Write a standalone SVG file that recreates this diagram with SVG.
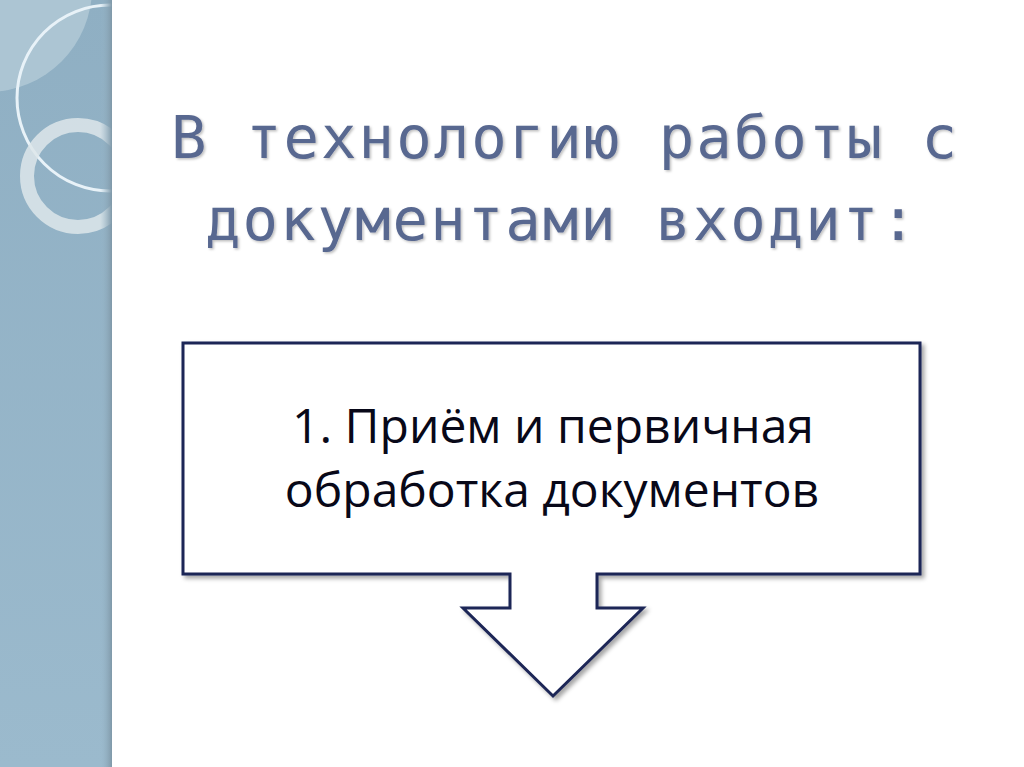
<svg xmlns="http://www.w3.org/2000/svg" width="1024" height="767" viewBox="0 0 1024 767">
<defs>
<linearGradient id="panel" x1="0" y1="0" x2="0" y2="1">
<stop offset="0" stop-color="#8fafc3"/>
<stop offset="1" stop-color="#9bbacd"/>
</linearGradient>
<linearGradient id="edge" x1="0" y1="0" x2="1" y2="0">
<stop offset="0" stop-color="#9ab8ca" stop-opacity="0"/>
<stop offset="1" stop-color="#7f98a8"/>
</linearGradient>
<clipPath id="pc"><rect x="0" y="0" width="112" height="767"/></clipPath>
<filter id="sh" x="-5%" y="-5%" width="115%" height="120%">
<feDropShadow dx="3" dy="3" stdDeviation="2" flood-color="#000" flood-opacity="0.35"/>
</filter>
<filter id="tsh" x="-5%" y="-20%" width="110%" height="140%">
<feDropShadow dx="1.5" dy="1.5" stdDeviation="1" flood-color="#000" flood-opacity="0.25"/>
</filter>
<style>
.title{font-family:"DejaVu Sans Mono","Liberation Mono",monospace;font-size:59px;fill:#596890;letter-spacing:2px}
.body{font-family:"Open Sans","Noto Sans",sans-serif;font-size:48px;font-weight:500;fill:#080818}
</style>
</defs>
<rect width="1024" height="767" fill="#ffffff"/>
<g id="sidebar" clip-path="url(#pc)">
<rect x="0" y="0" width="112" height="767" fill="url(#panel)"/>
<circle cx="-12" cy="-12" r="104" fill="#b3cad7" opacity="0.8"/>
<circle cx="110" cy="98" r="93" fill="none" stroke="#e8f2f8" stroke-width="3"/>
<circle cx="78" cy="176" r="51" fill="none" stroke="#dde6ea" stroke-width="14" opacity="0.85"/>
<rect x="100" y="0" width="12" height="767" fill="url(#edge)"/>
</g>
<g id="title" filter="url(#tsh)">
<text class="title" x="171" y="158">В технологию работы с</text>
<text class="title" x="205" y="240">документами входит:</text>
</g>
<g id="callout">
<path d="M183,343 H920 V574 H597 V608 H643 L553,696 L463,608 H510 V574 H183 Z" fill="#ffffff" stroke="#1c2556" stroke-width="3" stroke-linejoin="miter" filter="url(#sh)"/>
<text class="body" x="553" y="443" text-anchor="middle">1. Приём и первичная</text>
<text class="body" x="552" y="507" text-anchor="middle">обработка документов</text>
</g>
</svg>
